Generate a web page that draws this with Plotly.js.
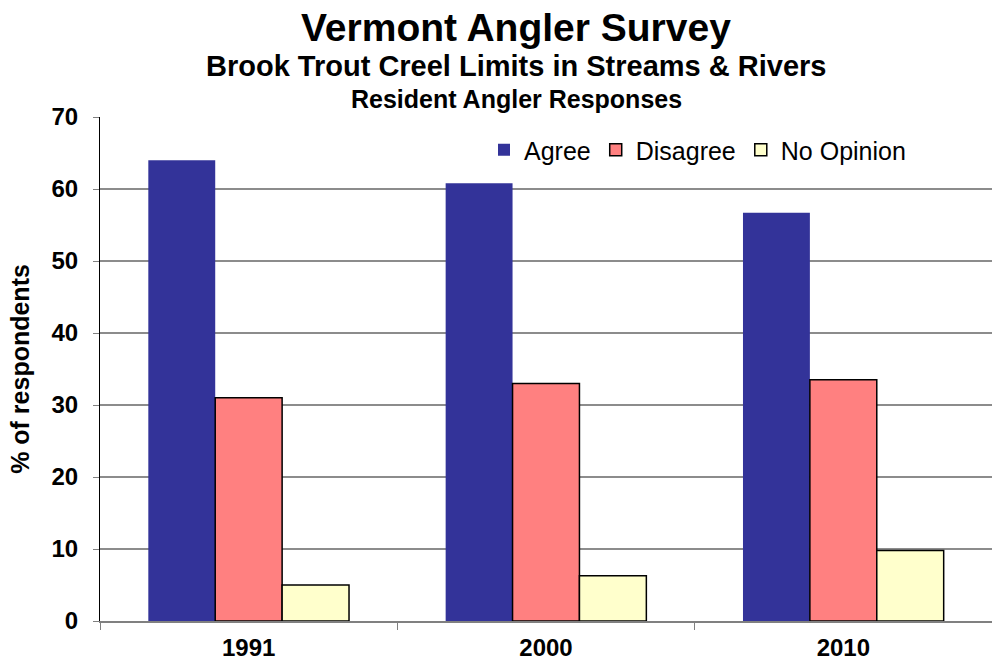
<!DOCTYPE html>
<html><head><meta charset="utf-8">
<script src="https://cdn.plot.ly/plotly-3.0.1.min.js"></script>
<style>body{margin:0;background:#fff}#c{width:992px;height:663px}</style>
</head><body><div id="c"></div>
<script>
const years = ["1991", "2000", "2010"];
const agree = [64.0, 60.8, 56.7];
const disagree = [31.0, 33.0, 33.5];
const noOpinion = [5.0, 6.3, 9.8];
const seriesNames = ["Agree", "Disagree", "No Opinion"];
const yTicks = [0, 10, 20, 30, 40, 50, 60, 70];

const colors = ["#333399", "#FF8080", "#FFFFCC"];
const vals = [agree, disagree, noOpinion];
const traces = vals.map((v, i) => ({
  type: "bar", x: years, y: v, name: seriesNames[i],
  marker: {color: colors[i], line: {color: i === 0 ? "#333399" : "#000", width: i === 0 ? 0 : 1.5}}
}));
const F = "Liberation Sans, Arial, sans-serif";
function py(px){ return (663 - 42 - px) / (663 - 117 - 42); }
function pxx(px){ return (px - 100) / 892; }
const layout = {
  width: 992, height: 663,
  margin: {l: 100, r: 0, t: 117, b: 42},
  barmode: "group", bargap: 0.325, bargroupgap: 0,
  paper_bgcolor: "#fff", plot_bgcolor: "#fff",
  font: {family: F, color: "#000"},
  xaxis: {type: "category", tickson: "boundaries", ticks: "outside", ticklen: 7, tickcolor: "#808080",
    showline: true, linecolor: "#808080", linewidth: 2,
    tickfont: {size: 24, family: F, weight: "bold"}, showgrid: false, ticklabelstandoff: 4},
  yaxis: {range: [0, 70], tickvals: yTicks, ticks: "outside", ticklen: 6, tickcolor: "#808080",
    showline: true, linecolor: "#000", linewidth: 1, gridcolor: "#8c8c8c", gridwidth: 1.5,
    tickfont: {size: 24, family: F, weight: "bold"}, zeroline: false, ticklabelstandoff: 10,
    title: {text: "% of respondents", font: {size: 25, family: F, weight: "bold"}, standoff: 14}},
  showlegend: true,
  legend: {orientation: "h", x: pxx(484), y: py(150), xanchor: "left", yanchor: "middle",
    font: {size: 25, family: F}, bgcolor: "rgba(0,0,0,0)", itemwidth: 30, traceorder: "normal"},
  annotations: [
    {text: "Vermont Angler Survey", size: 39, y: 28},
    {text: "Brook Trout Creel Limits in Streams &amp; Rivers", size: 29, y: 66},
    {text: "Resident Angler Responses", size: 25, y: 99}
  ].map(a => ({text: a.text, xref: "paper", yref: "paper", x: pxx(516), y: py(a.y),
    xanchor: "center", yanchor: "middle", showarrow: false,
    font: {size: a.size, family: F, weight: "bold", color: "#000"}}))
};
Plotly.newPlot("c", traces, layout, {displayModeBar: false});
</script></body></html>
